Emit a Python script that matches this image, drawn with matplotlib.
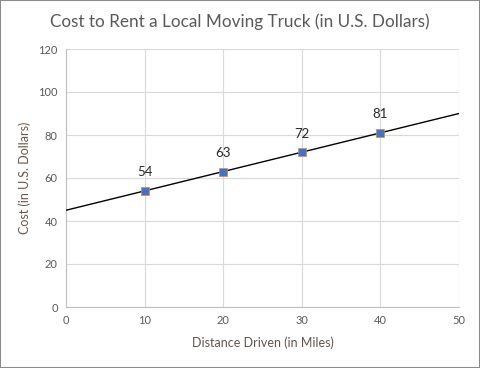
import numpy as np
import matplotlib.pyplot as plt
from matplotlib.patches import Rectangle

# data
miles = [10, 20, 30, 40]
cost = [54, 63, 72, 81]
x_ticks = [0, 10, 20, 30, 40, 50]
y_ticks = [0, 20, 40, 60, 80, 100, 120]

plt.rcParams['font.family'] = ['Lato', 'DejaVu Sans']

fig = plt.figure(figsize=(4.8, 3.68), dpi=100)
ax = fig.add_axes([66/480, 1 - 307/368, (459-66)/480, (307-49)/368])

# linear trendline through the points, extended over the whole x range
slope, intercept = np.polyfit(miles, cost, 1)
xs = np.array([x_ticks[0], x_ticks[-1]])
ax.plot(xs, slope * xs + intercept, color='black', linewidth=1, zorder=3)

ax.plot(miles, cost, 's', color='#4472C4', markeredgecolor='#D9834A',
        markeredgewidth=0.5, markersize=5.5, zorder=4)
for x, y in zip(miles, cost):
    ax.annotate(str(y), (x, y), xytext=(0, 9), textcoords='offset points',
                ha='center', va='bottom', fontsize=9.5, color='#262626')

ax.set_xlim(x_ticks[0], x_ticks[-1])
ax.set_ylim(y_ticks[0], y_ticks[-1])
ax.set_xticks(x_ticks)
ax.set_yticks(y_ticks)
ax.grid(True, color='#D9D9D9', linewidth=0.8)
ax.set_axisbelow(True)
for s in ['top', 'right']:
    ax.spines[s].set_visible(False)
for s in ['left', 'bottom']:
    ax.spines[s].set_color('#BFBFBF')
    ax.spines[s].set_linewidth(0.8)
ax.tick_params(length=0, labelsize=8, colors='#595959', pad=6)

ax.set_xlabel('Distance Driven (in Miles)', fontsize=9, color='#5f5550', labelpad=7)
ax.set_ylabel('Cost (in U.S. Dollars)', fontsize=9, color='#6b5548', labelpad=5)
fig.text(0.5, 1 - 22/368, 'Cost to Rent a Local Moving Truck (in U.S. Dollars)',
         ha='center', va='center', fontsize=12.3, color='#595959')

fig.patches.append(Rectangle((0, 0), 1, 1, transform=fig.transFigure, fill=False,
                             edgecolor='#8C8C8C', linewidth=1.5))

fig.savefig('out.png', dpi=100)
